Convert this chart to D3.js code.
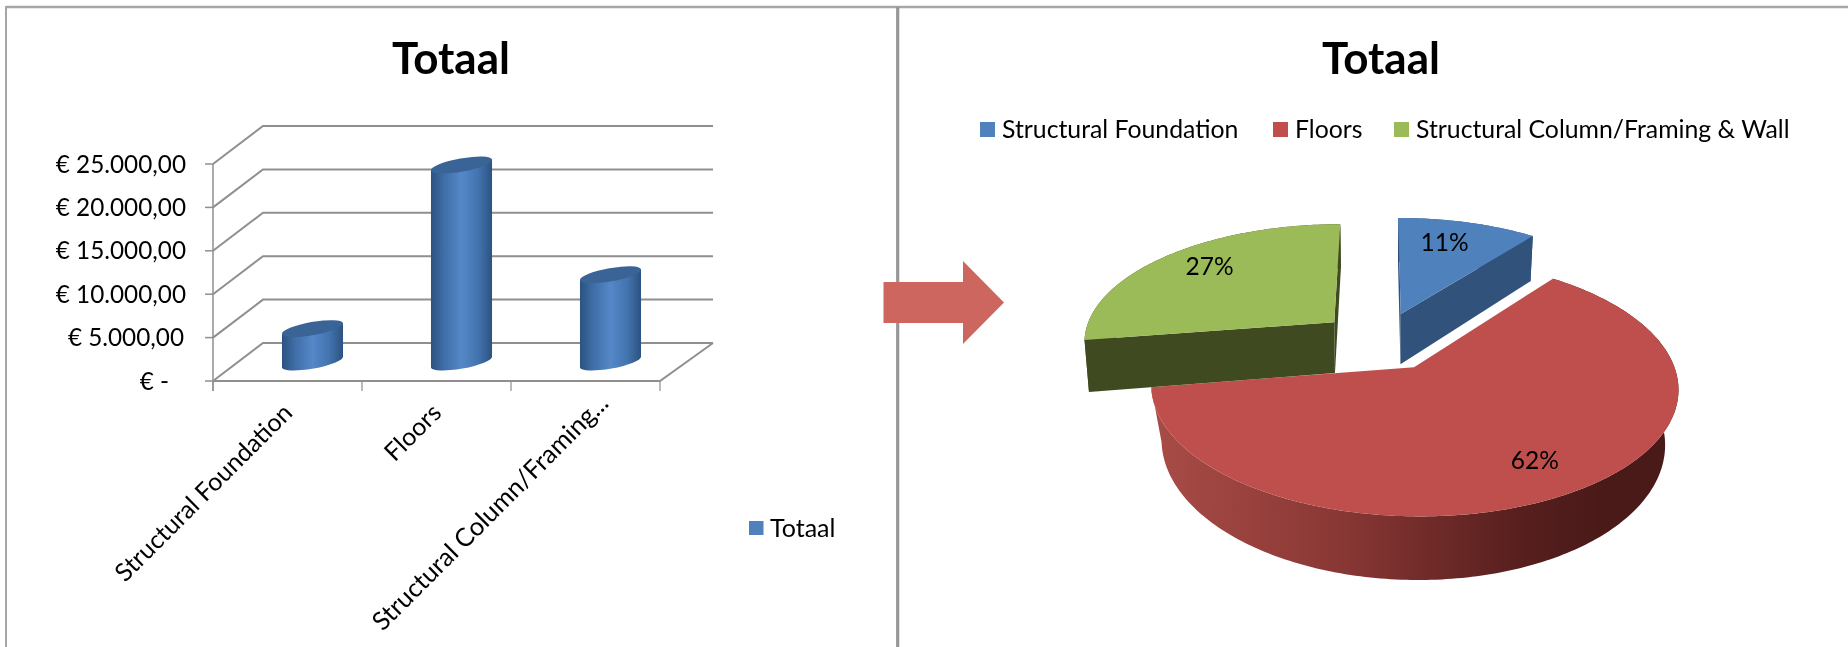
<!DOCTYPE html>
<html><head><meta charset="utf-8">
<script src="https://cdn.jsdelivr.net/npm/d3@7"></script>
<style>html,body{margin:0;background:#fff}svg{display:block;filter:blur(0.45px)}text{font-family:Lato,"Open Sans",sans-serif;fill:#000}</style>
</head><body><svg id="c" width="1848" height="647"></svg>
<script>
const chartTitle = "Totaal";
const categories = ["Structural Foundation","Floors","Structural Column/Framing & Wall"];
const axisLabels = ["Structural Foundation","Floors","Structural Column/Framing..."];
const values = [3850,22700,10050];
const yTicks = [0,5000,10000,15000,20000,25000];
const yTickLabels = ["€ -","€ 5.000,00","€ 10.000,00","€ 15.000,00","€ 20.000,00","€ 25.000,00"];
const topColors = ["#4f81bd","#be4f4c","#9bbb59"];
const sideColors = ["#31527a","#7a2f2c","#3f4a20"];

const svg = d3.select("#c");
const defs = svg.append("defs");

// frame
const frame = svg.append("g").attr("stroke","#a6a6a6").attr("fill","none");
frame.append("line").attr("x1",6).attr("x2",1848).attr("y1",7).attr("y2",7).attr("stroke-width",2.5);
frame.append("line").attr("x1",6).attr("x2",6).attr("y1",6).attr("y2",647).attr("stroke-width",2);
frame.append("line").attr("x1",897.7).attr("x2",897.7).attr("y1",7).attr("y2",647).attr("stroke-width",3.2).attr("stroke","#969696");

// titles
[451,1381].forEach(x=>svg.append("text").attr("x",x).attr("y",74).attr("text-anchor","middle")
  .attr("font-size",44).attr("font-weight",700).text(chartTitle));

// arrow
const ah = d3.path();
ah.moveTo(883.5,282);ah.lineTo(963,282);ah.lineTo(963,261);ah.lineTo(1004,302.5);ah.lineTo(963,344);ah.lineTo(963,323);ah.lineTo(883.5,323);ah.closePath();
svg.append("path").attr("d",ah.toString()).attr("fill","#cc665f");

// ---------- 3D column chart
const y = d3.scaleLinear().domain([0,25000]).range([381,164]);
const x = d3.scaleBand().domain(categories).range([213,660]);
const depthX = 50, depthY = 38;
const g = svg.append("g");
const gridCol = "#8f8f8f";
yTicks.forEach(t=>{
  const py = y(t);
  g.append("path").attr("fill","none").attr("stroke",gridCol).attr("stroke-width",2)
   .attr("d",d3.line()([[x.range()[0],py],[x.range()[0]+depthX,py-depthY],[x.range()[1]+depthX+3,py-depthY]]));
  g.append("line").attr("x1",205).attr("x2",213).attr("y1",py).attr("y2",py).attr("stroke",gridCol).attr("stroke-width",1.5);
});
g.append("path").attr("fill","none").attr("stroke",gridCol).attr("stroke-width",2)
 .attr("d",d3.line()([[x.range()[0],y(0)],[x.range()[1],y(0)],[x.range()[1]+depthX+3,y(0)-depthY]]));
g.append("line").attr("x1",213).attr("x2",213).attr("y1",y(25000)).attr("y2",391).attr("stroke",gridCol).attr("stroke-width",1.5);
[...categories.map(c=>x(c)),x.range()[1]].forEach(px=>g.append("line").attr("x1",px).attr("x2",px).attr("y1",381).attr("y2",391).attr("stroke",gridCol).attr("stroke-width",1.2));

// y labels
yTicks.forEach((t,i)=>svg.append("text").attr("x",t===0?169:(t===5000?184:186)).attr("y",y(t)).attr("dy","0.35em")
  .attr("text-anchor","end").attr("font-size",24.3).text(yTickLabels[i]));
// x labels
categories.forEach((c,i)=>svg.append("text")
  .attr("transform",`translate(${x(c)+x.bandwidth()/2+(i===2?12:-6)},${i===2?392:402}) rotate(-45)`)
  .attr("text-anchor","end").attr("font-size",i===2?25.5:25).attr("dy","0.7em").text(axisLabels[i]));

// cylinders
const cg = defs.append("linearGradient").attr("id","cyl");
[[0,"#2c5280"],[.22,"#3f6ea8"],[.5,"#5588c8"],[.78,"#4273ae"],[1,"#2c5280"]].forEach(([o,c])=>cg.append("stop").attr("offset",o).attr("stop-color",c));
const rx=31, ry=6.6, rot=-10, dx=rx*Math.cos(rot*Math.PI/180), dy=rx*Math.sin(-rot*Math.PI/180);
categories.forEach((c,i)=>{
  const cx = x(c)+x.bandwidth()/2+depthX/2, t=y(values[i])-depthY/2, b=y(0)-depthY/2;
  g.append("path").attr("fill","url(#cyl)")
   .attr("d",`M${cx-dx},${t+dy}V${b+dy}A${rx},${ry} ${rot} 0 0 ${cx+dx},${b-dy}V${t-dy}Z`);
  g.append("ellipse").attr("transform",`translate(${cx},${t}) rotate(${rot})`).attr("rx",rx).attr("ry",ry).attr("fill","#3a6496");
});
// legend
svg.append("rect").attr("x",749).attr("y",521).attr("width",14.5).attr("height",14).attr("fill",topColors[0]);
svg.append("text").attr("x",770).attr("y",528).attr("dy","0.35em").attr("font-size",25).text(chartTitle);

// ---------- 3D pie
const legendXs=[[980,1002],[1273,1295],[1394,1416]];
categories.forEach((c,i)=>{
  svg.append("rect").attr("x",legendXs[i][0]).attr("y",122).attr("width",15).attr("height",15).attr("fill",topColors[i]);
  svg.append("text").attr("x",legendXs[i][1]).attr("y",129).attr("dy","0.35em").attr("font-size",24.8).text(c);
});
const P={cx:1381,cy:341,R:252,S:118,k:.15,T:52,e:.25};
const bottomShrink=[.985,.955,.985];
const project=(u,v,down=0,s=1)=>{const w=1-P.k*v;return [P.cx+s*P.R*u/w,P.cy+P.S*v/w+(down?P.T/w:0)];};
const arcs=d3.pie().sort(null).value(d=>d)(values);
const total=d3.sum(values);
const line=d3.line();
const red=defs.append("linearGradient").attr("id","redwall").attr("gradientUnits","userSpaceOnUse")
  .attr("x1",1149).attr("x2",1680).attr("y1",0).attr("y2",0);
[[0,"#a94c47"],[.35,"#8a3835"],[.7,"#571f1e"],[.85,"#4a1a19"],[1,"#4a1a19"]].forEach(([o,c])=>red.append("stop").attr("offset",o).attr("stop-color",c));
const pg=svg.append("g");
arcs.forEach((a,i)=>{
  const mid=(a.startAngle+a.endAngle)/2, s=bottomShrink[i];
  const ou=P.e*Math.sin(mid), ov=-P.e*Math.cos(mid);
  const pt=(th,rho)=>[ou+rho*Math.sin(th),ov-rho*Math.cos(th)];
  const n=Math.ceil((a.endAngle-a.startAngle)/(Math.PI/180));
  const rim=d3.range(n+1).map(j=>pt(a.startAngle+(a.endAngle-a.startAngle)*j/n,1));
  const side=i===1?"url(#redwall)":sideColors[i];
  pg.append("path").attr("fill",side)
    .attr("d",line([...rim.map(p=>project(p[0],p[1])),...rim.slice().reverse().map(p=>project(p[0],p[1],1,s))])+"Z");
  if(i!==1) [a.startAngle,a.endAngle].forEach(th=>{
    const o=[ou,ov],r=pt(th,1);
    pg.append("path").attr("fill",side)
      .attr("d",line([project(...o),project(...r),project(r[0],r[1],1,s),project(o[0],o[1],1,s)])+"Z");
  });
  pg.append("path").attr("fill",topColors[i])
    .attr("d",line([project(ou,ov),...rim.map(p=>project(p[0],p[1]))])+"Z");
});
const labelNudge=[[-8,-1],[7,3],[3,-5]];
arcs.forEach((a,i)=>{
  const mid=(a.startAngle+a.endAngle)/2;
  const rho=P.e+.75;
  const [lx,ly]=project(rho*Math.sin(mid),-rho*Math.cos(mid));
  svg.append("text").attr("x",lx+labelNudge[i][0]).attr("y",ly+labelNudge[i][1]).attr("dy","0.35em").attr("text-anchor","middle").attr("font-size",24.5)
    .text(Math.round(a.value/total*100)+"%");
});
</script></body></html>
